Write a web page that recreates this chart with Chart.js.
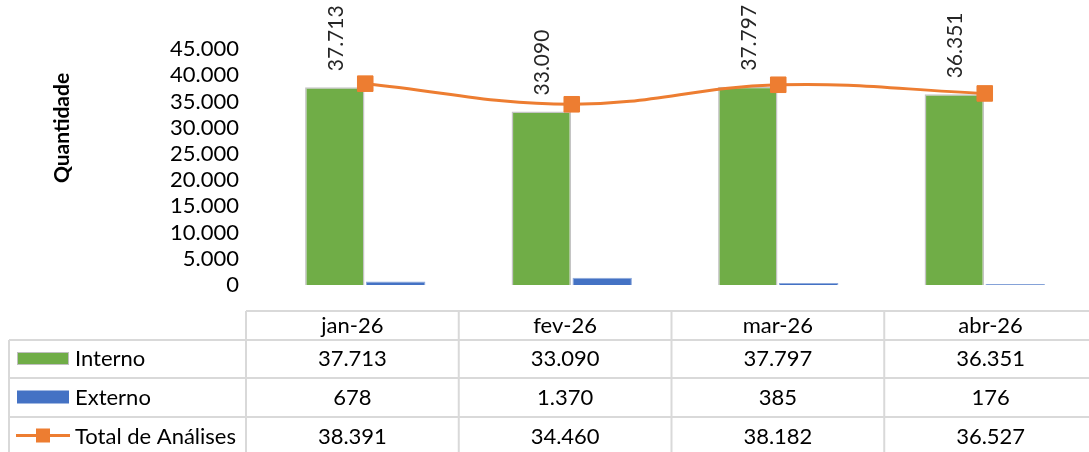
<!DOCTYPE html>
<html lang="pt-BR">
<head>
<meta charset="utf-8">
<title>Quantidade de Análises</title>
<script src="https://cdn.jsdelivr.net/npm/chart.js@4.4.1/dist/chart.umd.min.js"></script>
<style>
  html, body { margin: 0; padding: 0; background: #fff; overflow: hidden; }
  #wrap { width: 1100px; height: 452px; }
</style>
</head>
<body>
<div id="wrap"><canvas id="analisesChart" width="1100" height="452"></canvas></div>
<script>
// Dados mensais
const meses = ['jan-26', 'fev-26', 'mar-26', 'abr-26'];
const interno = [37713, 33090, 37797, 36351];
const externo = [678, 1370, 385, 176];
const totalAnalises = [38391, 34460, 38182, 36527];
const eixoMax = 45000;
const eixoPasso = 5000;

const FONTE = 'Lato, "Open Sans", sans-serif';
const TAM = 22;
const VERDE = '#70AD47';
const AZUL = '#4472C4';
const LARANJA = '#ED7D31';

// 37713 -> "37.713"
function formatar(n) {
    return String(Math.round(n)).replace(/\B(?=(\d{3})+(?!\d))/g, '.');
}

// Rótulos verticais acima das barras de Interno
const rotulosInterno = {
    id: 'rotulosInterno',
    afterDatasetsDraw(chart) {
        const ctx = chart.ctx;
        const meta = chart.getDatasetMeta(0);
        ctx.save();
        ctx.font = '21px ' + FONTE;
        ctx.fillStyle = '#262626';
        ctx.textAlign = 'left';
        ctx.textBaseline = 'middle';
        meta.data.forEach((bar, i) => {
            ctx.save();
            ctx.translate(bar.x, bar.y - 16);
            ctx.rotate(-Math.PI / 2);
            ctx.fillText(formatar(interno[i]), 0, 1);
            ctx.restore();
        });
        ctx.restore();
    }
};

// Título do eixo Y
const tituloEixo = {
    id: 'tituloEixo',
    afterDraw(chart) {
        const ctx = chart.ctx;
        ctx.save();
        ctx.translate(62, 128);
        ctx.rotate(-Math.PI / 2);
        ctx.font = 'bold 21px ' + FONTE;
        ctx.fillStyle = '#000';
        ctx.textAlign = 'center';
        ctx.textBaseline = 'middle';
        ctx.fillText('Quantidade', 0, 0);
        ctx.restore();
    }
};

// Tabela de dados abaixo do gráfico, com a legenda na primeira coluna
const tabelaDados = {
    id: 'tabelaDados',
    afterDraw(chart) {
        const ctx = chart.ctx;
        const esq = 9, col0 = 246, larg = 212.75;
        const linhas = [311, 340, 378, 417, 456];
        const dir = col0 + larg * meses.length;
        ctx.save();
        ctx.strokeStyle = '#d9d9d9';
        ctx.lineWidth = 2;
        ctx.beginPath();
        // linhas horizontais
        ctx.moveTo(col0, linhas[0]); ctx.lineTo(dir, linhas[0]);
        for (let r = 1; r < linhas.length; r++) {
            ctx.moveTo(esq, linhas[r]); ctx.lineTo(dir, linhas[r]);
        }
        // linhas verticais
        ctx.moveTo(esq, linhas[1]); ctx.lineTo(esq, linhas[4]);
        for (let c = 0; c <= meses.length; c++) {
            const x = col0 + larg * c;
            ctx.moveTo(x, linhas[0]); ctx.lineTo(x, linhas[4]);
        }
        ctx.stroke();

        ctx.font = TAM + 'px ' + FONTE;
        ctx.fillStyle = '#000';
        ctx.textBaseline = 'middle';
        ctx.textAlign = 'center';
        const series = [interno, externo, totalAnalises];
        meses.forEach((m, c) => {
            const cx = col0 + larg * (c + 0.5);
            ctx.fillText(m, cx, (linhas[0] + linhas[1]) / 2);
            series.forEach((s, r) => {
                ctx.fillText(formatar(s[c]), cx, (linhas[r + 1] + linhas[r + 2]) / 2);
            });
        });

        // legenda
        const nomes = chart.data.datasets.map(d => d.label);
        ctx.textAlign = 'left';
        nomes.forEach((nome, r) => {
            const cy = (linhas[r + 1] + linhas[r + 2]) / 2;
            if (r < 2) {
                ctx.fillStyle = r === 0 ? VERDE : AZUL;
                ctx.fillRect(17, cy - 7, 52, 13);
                if (r === 0) {
                    ctx.strokeStyle = '#bfbfbf';
                    ctx.lineWidth = 1;
                    ctx.strokeRect(17.5, cy - 6.5, 51, 12);
                }
            } else {
                ctx.strokeStyle = LARANJA;
                ctx.lineWidth = 3;
                ctx.beginPath();
                ctx.moveTo(16, cy - 1); ctx.lineTo(70, cy - 1);
                ctx.stroke();
                ctx.fillStyle = LARANJA;
                ctx.fillRect(36, cy - 8, 14, 14);
            }
            ctx.fillStyle = '#000';
            ctx.fillText(nome, 75, cy);
        });
        ctx.restore();
    }
};

new Chart(document.getElementById('analisesChart'), {
    data: {
        labels: meses,
        datasets: [
            {
                type: 'bar',
                label: 'Interno',
                data: interno,
                backgroundColor: VERDE,
                borderColor: '#c4c4c4',
                borderWidth: 1.5,
                categoryPercentage: 0.59,
                barPercentage: 0.975,
                order: 1
            },
            {
                type: 'bar',
                label: 'Externo',
                data: externo,
                backgroundColor: AZUL,
                borderColor: '#8faadc',
                borderWidth: 1,
                categoryPercentage: 0.59,
                barPercentage: 0.975,
                order: 1
            },
            {
                type: 'line',
                label: 'Total de Análises',
                data: totalAnalises,
                borderColor: LARANJA,
                backgroundColor: LARANJA,
                borderWidth: 3,
                tension: 0.4,
                pointStyle: 'rect',
                pointRadius: 11,
                pointBorderWidth: 1,
                order: 0
            }
        ]
    },
    options: {
        responsive: false,
        animation: false,
        devicePixelRatio: 1,
        layout: { padding: { left: 0, right: 4, top: 49, bottom: 167 } },
        plugins: {
            legend: { display: false },
            tooltip: { enabled: false }
        },
        scales: {
            x: { display: false },
            y: {
                min: 0,
                max: eixoMax,
                grid: { display: false, drawTicks: false },
                border: { display: false },
                ticks: {
                    stepSize: eixoPasso,
                    autoSkip: false,
                    padding: 23,
                    color: '#000',
                    font: { family: FONTE, size: TAM },
                    callback: v => formatar(v)
                },
                afterFit(scale) { scale.width = 262; }
            }
        }
    },
    plugins: [rotulosInterno, tituloEixo, tabelaDados]
});
</script>
</body>
</html>
